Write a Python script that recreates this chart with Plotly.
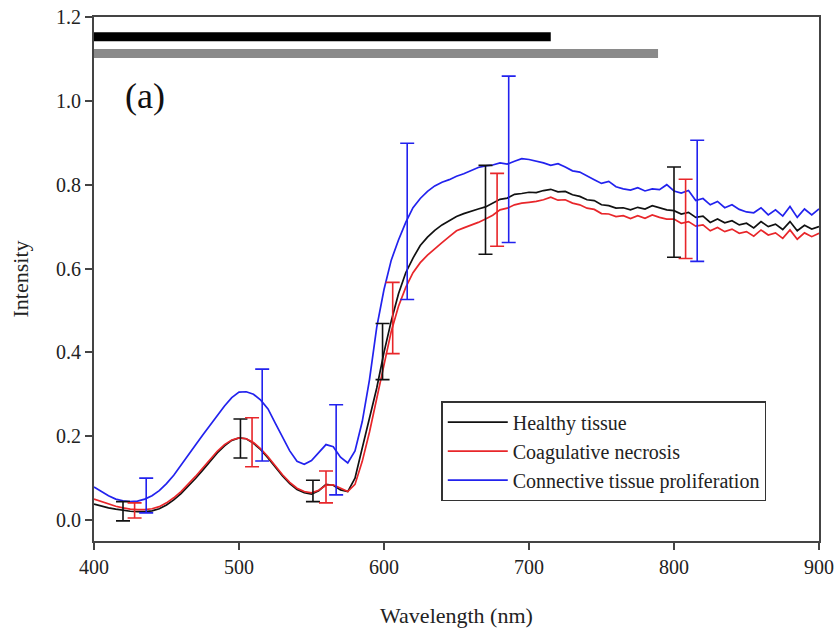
import plotly.graph_objects as go

wavelength = list(range(400, 905, 5))

healthy = [0.038, 0.033, 0.029, 0.026, 0.023, 0.021, 0.020, 0.020, 0.022, 0.027,
           0.036, 0.048, 0.063, 0.080, 0.099, 0.119, 0.140, 0.160, 0.177, 0.190,
           0.196, 0.194, 0.183, 0.168, 0.148, 0.126, 0.105, 0.087, 0.073, 0.065,
           0.062, 0.070, 0.085, 0.083, 0.072, 0.068, 0.100, 0.172, 0.245, 0.315,
           0.400, 0.475, 0.540, 0.590, 0.625, 0.655, 0.675, 0.691, 0.704, 0.714,
           0.724, 0.731, 0.737, 0.742, 0.747, 0.757, 0.765, 0.768, 0.777, 0.779,
           0.782, 0.781, 0.786, 0.789, 0.783, 0.784, 0.776, 0.772, 0.764, 0.762,
           0.752, 0.750, 0.744, 0.745, 0.740, 0.746, 0.742, 0.750, 0.745, 0.740,
           0.738, 0.730, 0.734, 0.722, 0.725, 0.710, 0.718, 0.709, 0.714, 0.704,
           0.708, 0.697, 0.712, 0.700, 0.706, 0.693, 0.712, 0.690, 0.703, 0.694,
           0.700]

necrosis = [0.050, 0.044, 0.038, 0.033, 0.029, 0.026, 0.025, 0.025, 0.027, 0.032,
            0.041, 0.053, 0.068, 0.085, 0.104, 0.124, 0.145, 0.164, 0.180, 0.191,
            0.196, 0.194, 0.185, 0.170, 0.151, 0.130, 0.108, 0.090, 0.076, 0.068,
            0.065, 0.071, 0.083, 0.084, 0.075, 0.068, 0.085, 0.140, 0.210, 0.290,
            0.370, 0.450, 0.510, 0.555, 0.590, 0.614, 0.632, 0.648, 0.662, 0.676,
            0.690, 0.697, 0.703, 0.710, 0.718, 0.727, 0.740, 0.744, 0.752, 0.756,
            0.758, 0.760, 0.764, 0.770, 0.763, 0.764, 0.756, 0.752, 0.744, 0.741,
            0.731, 0.730, 0.724, 0.726, 0.719, 0.726, 0.720, 0.728, 0.722, 0.718,
            0.718, 0.708, 0.712, 0.701, 0.704, 0.690, 0.698, 0.688, 0.694, 0.684,
            0.688, 0.677, 0.692, 0.680, 0.685, 0.672, 0.692, 0.670, 0.685, 0.676,
            0.684]

proliferation = [0.079, 0.068, 0.058, 0.050, 0.046, 0.044, 0.045, 0.050, 0.058, 0.070,
                 0.087, 0.107, 0.130, 0.154, 0.179, 0.203, 0.226, 0.249, 0.272, 0.292,
                 0.305, 0.306, 0.300, 0.286, 0.265, 0.231, 0.197, 0.165, 0.140, 0.133,
                 0.142, 0.162, 0.180, 0.175, 0.150, 0.136, 0.165, 0.235, 0.335, 0.460,
                 0.550, 0.620, 0.668, 0.710, 0.745, 0.767, 0.784, 0.797, 0.806, 0.812,
                 0.820, 0.826, 0.834, 0.841, 0.845, 0.847, 0.852, 0.849, 0.856, 0.862,
                 0.860, 0.856, 0.852, 0.846, 0.850, 0.842, 0.833, 0.830, 0.820, 0.812,
                 0.803, 0.808, 0.795, 0.790, 0.787, 0.793, 0.785, 0.790, 0.788, 0.800,
                 0.785, 0.780, 0.786, 0.762, 0.767, 0.752, 0.760, 0.745, 0.752, 0.741,
                 0.735, 0.733, 0.745, 0.728, 0.740, 0.725, 0.748, 0.722, 0.742, 0.728,
                 0.742]

# error bars: position, centre, upper, lower
healthy_err_x = [420, 501, 551, 599, 670, 800]
healthy_err_y = [0.021, 0.195, 0.070, 0.402, 0.740, 0.735]
healthy_err_top = [0.044, 0.241, 0.095, 0.469, 0.846, 0.842]
healthy_err_bot = [-0.002, 0.148, 0.044, 0.335, 0.634, 0.627]

necrosis_err_x = [428, 509, 560, 606, 678, 808]
necrosis_err_y = [0.023, 0.186, 0.079, 0.482, 0.740, 0.719]
necrosis_err_top = [0.041, 0.244, 0.117, 0.567, 0.827, 0.813]
necrosis_err_bot = [0.005, 0.127, 0.041, 0.397, 0.653, 0.624]

prolif_err_x = [436, 516, 567, 616, 686, 816]
prolif_err_y = [0.058, 0.284, 0.168, 0.712, 0.860, 0.760]
prolif_err_top = [0.100, 0.360, 0.275, 0.899, 1.059, 0.906]
prolif_err_bot = [0.017, 0.141, 0.060, 0.526, 0.662, 0.617]

# top range bars
bar_names = ["black bar", "gray bar"]
bar_start = [400, 400]
bar_end = [715, 789]
bar_level = [1.153, 1.113]
bar_colors = ["#000000", "#8a8a8a"]

series = [
    ("Healthy tissue", healthy, "#111111",
     healthy_err_x, healthy_err_y, healthy_err_top, healthy_err_bot),
    ("Coagulative necrosis", necrosis, "#e8262a",
     necrosis_err_x, necrosis_err_y, necrosis_err_top, necrosis_err_bot),
    ("Connective tissue proliferation", proliferation, "#2222ee",
     prolif_err_x, prolif_err_y, prolif_err_top, prolif_err_bot),
]

FONT = "Liberation Serif, Times New Roman, serif"

fig = go.Figure()

for name, ys, col, ex, ey, et, eb in series:
    fig.add_trace(go.Scatter(x=wavelength, y=ys, mode="lines", name=name,
                             line=dict(color=col, width=1.7)))
for name, ys, col, ex, ey, et, eb in series:
    fig.add_trace(go.Scatter(
        x=ex, y=ey, mode="markers", showlegend=False,
        marker=dict(size=1, color="rgba(0,0,0,0)"),
        error_y=dict(type="data", symmetric=False,
                     array=[t - c for t, c in zip(et, ey)],
                     arrayminus=[c - b for c, b in zip(ey, eb)],
                     color=col, thickness=1.6, width=7),
        hoverinfo="skip"))

for nm, x0, x1, lv, c in zip(bar_names, bar_start, bar_end, bar_level, bar_colors):
    fig.add_trace(go.Scatter(x=[x0, x1], y=[lv, lv], mode="lines", showlegend=False,
                             line=dict(color=c, width=9), name=nm))

fig.add_annotation(x=435, y=1.011, text="(a)", showarrow=False,
                   font=dict(family=FONT, size=36, color="#111111"))

fig.update_xaxes(range=[400, 900], tickvals=[400, 500, 600, 700, 800, 900],
                 ticks="outside", ticklen=7, tickwidth=1.5, tickcolor="#444",
                 showline=True, linecolor="#444", linewidth=2, mirror=True,
                 showgrid=False, zeroline=False, automargin=False,
                 tickfont=dict(family=FONT, size=20, color="#222"),
                 title=dict(text="Wavelength (nm)", font=dict(family=FONT, size=22, color="#222"),
                            standoff=31))
fig.update_yaxes(range=[-0.05, 1.2], tickvals=[0.0, 0.2, 0.4, 0.6, 0.8, 1.0, 1.2],
                 ticktext=["0.0", "0.2", "0.4", "0.6", "0.8", "1.0", "1.2"],
                 ticks="outside", ticklen=7, tickwidth=1.5, tickcolor="#444",
                 showline=True, linecolor="#444", linewidth=2, mirror=True,
                 showgrid=False, zeroline=False, automargin=False,
                 tickfont=dict(family=FONT, size=20, color="#222"),
                 title=dict(text="Intensity", font=dict(family=FONT, size=22, color="#222"),
                            standoff=21))

fig.update_layout(
    width=836, height=629,
    margin=dict(l=94, r=17, t=17, b=88),
    plot_bgcolor="white", paper_bgcolor="white",
    legend=dict(x=0.479, y=0.267, xanchor="left", yanchor="top",
                bordercolor="#333", borderwidth=1.5, bgcolor="white",
                font=dict(family=FONT, size=20, color="#222"),
                itemwidth=60, tracegroupgap=0),
)

fig.write_html("out.html")
